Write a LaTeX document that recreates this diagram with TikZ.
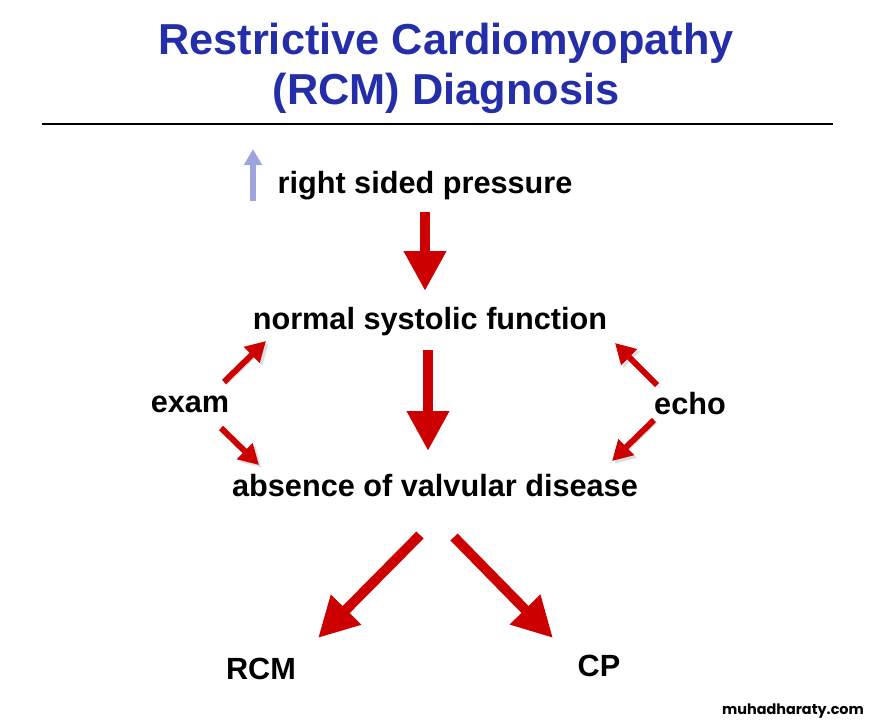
\documentclass[tikz,border=0pt]{standalone}
\usepackage{fontspec}
\setmainfont{Liberation Sans}
\newfontfamily\wmfont{Poppins}
\usetikzlibrary{arrows.meta}

\definecolor{titleblue}{RGB}{36,46,168}
\definecolor{arrowred}{RGB}{204,0,0}
\definecolor{upblue}{RGB}{158,164,222}

\tikzset{every picture/.style={line width=0.75pt}}
\tikzset{
  lbl/.style={font=\fontsize{23}{27}\selectfont\bfseries, inner sep=0pt},
  ttl/.style={font=\fontsize{32.5}{38}\selectfont\bfseries, text=titleblue, inner sep=0pt},
  shade/.style={preaction={draw=black!13, transform canvas={shift={(2pt,-2pt)}}}},
  bigarrow/.style={arrowred, line width=7.5pt, shade, -{Triangle[length=30pt,width=30pt]}},
  smallarrow/.style={arrowred, line width=4.5pt, shade, -{Triangle[length=15pt,width=16pt]}},
  uparrow/.style={upblue, line width=4pt, -{Triangle[length=12pt,width=13pt]}}
}

\begin{document}
\begin{tikzpicture}[x=0.75pt,y=0.75pt,yscale=-1,xscale=1]
	\useasboundingbox (0,0) rectangle (872,725);
	
	% Title
	\node[ttl] (title1) at (446,43) {Restrictive Cardiomyopathy};
	\node[ttl] (title2) at (446,93) {(RCM) Diagnosis};
	%Straight Lines rule
	\coordinate (ruleL) at (42,124);
	\coordinate (ruleR) at (833,124);
	\draw [line width=1.5pt] (ruleL) -- (ruleR) ;
	
	% Text Node
	\node[lbl] (press) at (425,186) {right sided pressure};
	% Text Node
	\node[lbl] (normal) at (430,322) {normal systolic function};
	% Text Node
	\node[lbl] (exam) at (190,404) {exam};
	% Text Node
	\node[lbl] (echo) at (690,404) {echo};
	% Text Node
	\node[lbl] (absence) at (435,486) {absence of valvular disease};
	% Text Node
	\node[lbl] (rcm) at (261,669) {RCM};
	% Text Node
	\node[lbl] (cp) at (599,666) {CP};
	% Text Node
	\node[inner sep=0pt, font=\wmfont\fontsize{10.8}{13}\selectfont\bfseries] (mark) at (793,711) {muhadharaty.com};
	
	%Arrow up (blue)
	\coordinate (upA) at (253,201);
	\coordinate (upB) at (253,149);
	\draw [uparrow] (upA) -- (upB) ;
	
	%Arrows down
	\coordinate (a1s) at (425,212);
	\coordinate (a1e) at (425,291);
	\draw [bigarrow] (a1s) -- (a1e) ;
	\coordinate (a2s) at (428,350);
	\coordinate (a2e) at (428,451);
	\draw [bigarrow] (a2s) -- (a2e) ;
	
	%Arrows exam
	\coordinate (ex1s) at (224,382);
	\coordinate (ex1e) at (266,341);
	\draw [smallarrow] (ex1s) -- (ex1e) ;
	\coordinate (ex2s) at (221,428);
	\coordinate (ex2e) at (259,465);
	\draw [smallarrow] (ex2s) -- (ex2e) ;
	
	%Arrows echo
	\coordinate (ec1s) at (657,385);
	\coordinate (ec1e) at (615,343);
	\draw [smallarrow] (ec1s) -- (ec1e) ;
	\coordinate (ec2s) at (654,420);
	\coordinate (ec2e) at (612,461);
	\draw [smallarrow] (ec2s) -- (ec2e) ;
	
	%Arrows to RCM and CP
	\coordinate (d1s) at (420,535);
	\coordinate (d1e) at (318,638);
	\draw [bigarrow] (d1s) -- (d1e) ;
	\coordinate (d2s) at (454,537);
	\coordinate (d2e) at (553,638);
	\draw [bigarrow] (d2s) -- (d2e) ;
	
\end{tikzpicture}
\end{document}
